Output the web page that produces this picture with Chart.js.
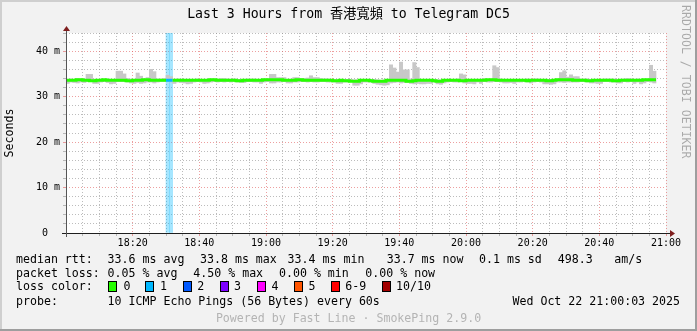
<!DOCTYPE html>
<html><head><meta charset="utf-8">
<script src="https://cdn.jsdelivr.net/npm/chart.js@4.4.1/dist/chart.umd.min.js"></script>
<style>html,body{margin:0;padding:0;background:#f2f2f2;}canvas{display:block;}</style>
</head><body>
<canvas id="c" width="697" height="331"></canvas>
<script>
const MONO = "'DejaVu Sans Mono', 'Noto Sans CJK TC', monospace";
const chartTitle = 'Last 3 Hours from 香港寬頻 to Telegram DC5';
const yAxisTitle = 'Seconds';
const watermark = 'RRDTOOL / TOBI OETIKER';
// x axis: minutes after 18:00, major labels every 20 minutes
const timeTickMinutes = [20, 40, 60, 80, 100, 120, 140, 160, 180];
const timeTickLabels = ['18:20','18:40','19:00','19:20','19:40','20:00','20:20','20:40','21:00'];
const yTickValues = [0, 10, 20, 30, 40];
const yTickLabels = ['0  ', '10 m', '20 m', '30 m', '40 m'];

// per-minute smoke range (ms) and median rtt (ms), minute 0 = 18:00
const smokeLo = [
32.9,33.2,33.1,33.0,33.2,33.1,33.3,33.3,32.9,32.9,
33.2,33.3,33.1,32.8,32.9,33.3,33.3,33.3,33.2,33.0,
32.9,33.1,32.9,33.0,33.2,33.2,33.0,33.2,33.3,33.3,
33.3,33.2,32.9,33.2,33.1,33.0,32.8,32.9,33.2,33.3,
33.2,32.9,33.0,33.2,33.3,33.2,33.3,33.2,33.3,33.2,
33.3,33.2,33.1,33.1,33.3,33.3,33.2,33.2,32.9,33.2,
33.3,33.0,33.0,33.2,33.2,33.3,33.0,33.0,33.2,33.2,
33.3,33.3,33.2,33.3,33.2,33.2,33.3,33.3,33.2,33.2,
33.2,32.9,32.9,33.2,33.2,33.3,32.5,32.5,32.8,33.2,
33.2,33.2,32.9,32.7,32.6,32.5,32.6,33.0,33.1,33.2,
33.0,33.1,33.1,32.9,32.8,32.9,32.8,32.8,32.9,32.9,
33.2,32.8,32.7,33.0,33.2,33.3,33.2,33.2,33.3,33.0,
32.9,32.9,32.8,33.2,32.9,33.3,33.2,33.2,33.3,33.3,
33.2,33.0,33.0,33.1,32.9,33.2,33.2,33.3,33.2,33.0,
33.2,33.3,33.2,32.8,32.8,32.7,32.8,33.2,33.2,33.1,
33.2,33.2,33.2,33.2,33.3,33.3,33.2,33.0,33.0,32.9,
32.9,33.3,33.3,33.2,33.2,33.0,33.0,33.3,33.2,33.3,
32.9,33.2,32.8,33.0,33.3,33.2,33.0];
const smokeHi = [
33.8,33.9,33.8,34.0,33.9,33.8,34.9,34.9,33.8,33.8,
33.9,33.8,33.9,33.8,33.8,35.6,35.6,35.0,34.0,33.9,
33.8,35.2,34.5,33.9,34.2,36.0,35.5,33.9,33.9,34.0,
34.7,34.4,33.8,33.9,33.8,33.8,33.8,33.7,33.8,33.9,
33.8,33.8,33.8,33.9,33.9,33.9,34.0,34.0,33.9,33.8,
33.9,33.8,33.8,33.8,33.9,33.9,33.9,33.8,33.8,33.9,
33.9,34.9,34.9,34.2,34.2,34.2,33.8,33.8,34.2,34.2,
34.0,34.0,34.1,34.6,34.2,34.2,34.0,33.9,33.9,33.8,
33.8,33.8,33.8,33.8,33.8,33.8,33.7,33.7,33.7,33.8,
33.8,33.8,33.8,33.7,33.6,33.7,33.7,37.0,36.3,35.4,
37.6,35.9,35.9,33.9,37.5,36.4,33.8,33.8,33.8,33.8,
33.8,33.7,33.7,33.7,33.8,33.8,33.8,33.9,35.0,34.8,
33.8,33.8,33.7,33.8,33.8,33.9,33.8,33.9,36.8,36.4,
33.9,33.8,33.8,33.8,33.8,33.8,33.8,33.8,33.9,33.8,
33.9,33.9,33.8,33.8,33.8,33.8,33.8,33.9,35.3,35.7,
34.3,34.8,34.4,34.4,33.9,33.9,33.9,33.8,33.8,33.8,
33.8,33.9,33.9,33.9,33.9,33.8,33.8,33.9,34.0,33.9,
33.8,33.9,33.8,33.8,33.9,36.9,35.6];
const medianRtt = [
33.5,33.6,33.6,33.6,33.7,33.7,33.6,33.6,33.5,33.5,
33.6,33.6,33.7,33.6,33.6,33.6,33.6,33.6,33.6,33.5,
33.5,33.6,33.6,33.6,33.7,33.7,33.6,33.6,33.6,33.6,
33.6,33.6,33.6,33.6,33.6,33.6,33.6,33.6,33.6,33.6,
33.6,33.6,33.6,33.6,33.7,33.7,33.6,33.6,33.6,33.6,
33.6,33.6,33.5,33.5,33.6,33.6,33.6,33.6,33.6,33.6,
33.7,33.7,33.7,33.7,33.7,33.7,33.6,33.6,33.6,33.6,
33.7,33.7,33.6,33.6,33.6,33.6,33.6,33.6,33.6,33.6,
33.6,33.5,33.5,33.6,33.5,33.5,33.4,33.4,33.4,33.6,
33.6,33.6,33.5,33.4,33.4,33.4,33.4,33.6,33.6,33.6,
33.6,33.6,33.6,33.4,33.4,33.5,33.6,33.6,33.6,33.6,
33.6,33.5,33.4,33.4,33.6,33.6,33.6,33.6,33.6,33.5,
33.5,33.6,33.6,33.6,33.6,33.6,33.6,33.7,33.7,33.7,
33.6,33.6,33.6,33.6,33.6,33.6,33.6,33.6,33.6,33.5,
33.6,33.6,33.6,33.6,33.6,33.5,33.5,33.6,33.7,33.7,
33.7,33.7,33.7,33.6,33.6,33.6,33.6,33.5,33.5,33.6,
33.6,33.6,33.6,33.6,33.6,33.5,33.5,33.6,33.6,33.6,
33.6,33.6,33.6,33.6,33.7,33.7,33.7];
const lossPct = [
0,0,0,0,0,0,0,0,0,0, 0,0,0,0,0,0,0,0,0,0, 0,0,0,0,0,0,0,0,0,0,
4.5,4.5,0,0,0,0,0,0,0,0, 0,0,0,0,0,0,0,0,0,0, 0,0,0,0,0,0,0,0,0,0,
0,0,0,0,0,0,0,0,0,0, 0,0,0,0,0,0,0,0,0,0, 0,0,0,0,0,0,0,0,0,0,
0,0,0,0,0,0,0,0,0,0, 0,0,0,0,0,0,0,0,0,0, 0,0,0,0,0,0,0,0,0,0,
0,0,0,0,0,0,0,0,0,0, 0,0,0,0,0,0,0,0,0,0, 0,0,0,0,0,0,0,0,0,0,
0,0,0,0,0,0,0,0,0,0, 0,0,0,0,0,0,0];
const lossClassLabels = ['0','1','2','3','4','5','6-9','10/10'];
const lossClassColors = ['#26ff00','#00b8ff','#0059ff','#7e00ff','#ff00ff','#ff5500','#ff0000','#a10000'];

const yMax = 44;
function lossClass(p){ if(p<=0) return 0; const n=Math.ceil(p/10); if(n>=10) return 7; if(n>=6) return 6; return n; }
function rgba(hex,a){const v=parseInt(hex.slice(1),16);return `rgba(${v>>16},${(v>>8)&255},${v&255},${a})`;}

const smokeData = smokeLo.map((lo,i)=>({x:i+0.5, y:[lo, smokeHi[i]]}));
const medianData = medianRtt.map((m,i)=>({x:i, y:m}));
medianData.push({x:medianRtt.length, y:medianRtt[medianRtt.length-1]});
const lossData = [], lossBg = [];
lossPct.forEach((p,i)=>{ if(p>0){ lossData.push({x:i+0.5, y:[0,yMax]}); lossBg.push(rgba(lossClassColors[lossClass(p)],0.35)); } });

const GRID = 'rgba(143,143,143,0.6)', MGRID = 'rgba(222,80,80,0.55)';

const deco = {
  id:'deco',
  beforeDraw(chart){
    const ctx=chart.ctx, a=chart.chartArea;
    ctx.save();
    ctx.fillStyle='#f2f2f2'; ctx.fillRect(0,0,chart.width,chart.height);
    ctx.fillStyle='#ffffff'; ctx.fillRect(a.left,a.top,a.right-a.left,a.bottom-a.top);
    ctx.restore();
  },
  afterDatasetsDraw(chart){
    const ctx=chart.ctx, a=chart.chartArea;
    ctx.save();
    ctx.lineWidth=1;
    ctx.strokeStyle='#1f1f1f';
    ctx.beginPath(); ctx.moveTo(a.left-4, a.bottom+0.5); ctx.lineTo(a.right+4, a.bottom+0.5); ctx.stroke();
    ctx.strokeStyle='#555';
    ctx.beginPath(); ctx.moveTo(a.left+0.5, a.bottom+4); ctx.lineTo(a.left+0.5, a.top-2); ctx.stroke();
    ctx.fillStyle='#7f1f1f';
    ctx.beginPath(); ctx.moveTo(a.right+4, a.bottom-3); ctx.lineTo(a.right+9, a.bottom+0.5); ctx.lineTo(a.right+4, a.bottom+4); ctx.closePath(); ctx.fill();
    ctx.beginPath(); ctx.moveTo(a.left-3, a.top-2); ctx.lineTo(a.left+0.5, a.top-7); ctx.lineTo(a.left+4, a.top-2); ctx.closePath(); ctx.fill();
    ctx.restore();
  },
  afterDraw(chart){
    const ctx=chart.ctx, W=chart.width, H=chart.height;
    ctx.save();
    ctx.fillStyle='#000'; ctx.textBaseline='middle';
    ctx.font=`13.2px ${MONO}`; ctx.textAlign='center';
    ctx.fillText(chartTitle, W/2, 14.5);
    const F=`11.6px ${MONO}`;
    ctx.font=F; ctx.textAlign='left';
    const T=(s,x,y,al)=>{ctx.textAlign=al||'left'; ctx.fillText(s,x,y);};
    T('median rtt:',16,259.5); T('33.6 ms avg',107.6,259.5); T('33.8 ms max',200,259.5);
    T('33.4 ms min',287.6,259.5); T('33.7 ms now',386.7,259.5); T('0.1 ms sd',479,259.5);
    T('498.3',557.8,259.5); T('am/s',614.2,259.5);
    T('packet loss:',16,273.5); T('0.05 % avg',107.6,273.5); T('4.50 % max',193.3,273.5);
    T('0.00 % min',279,273.5); T('0.00 % now',365.3,273.5);
    T('loss color:',16,287);
    const boxX=[108,145.3,182.7,220,256.9,294.2,331,381.8];
    const lblX=[123.6,160,197.3,234,271.6,308.4,345.3,396];
    lossClassLabels.forEach((l,i)=>{
      ctx.fillStyle=lossClassColors[i]; ctx.fillRect(Math.round(boxX[i])+0.5,281.5,8,10);
      ctx.strokeStyle='#000'; ctx.lineWidth=1; ctx.strokeRect(Math.round(boxX[i])+0.5,281.5,8,10);
      ctx.fillStyle='#000'; T(l,lblX[i],287);
    });
    T('probe:',16,302); T('10 ICMP Echo Pings (56 Bytes) every 60s',107.6,302);
    T('Wed Oct 22 21:00:03 2025',680,302,'right');
    ctx.fillStyle='#b4b4b4'; T('Powered by Fast Line · SmokePing 2.9.0', W/2, 318.5, 'center');
    // watermark
    ctx.save(); ctx.translate(685.5,5); ctx.rotate(Math.PI/2);
    ctx.fillStyle='rgba(0,0,0,0.3)'; ctx.textAlign='left'; ctx.fillText(watermark,0,0);
    ctx.restore();
    // frame shading
    ctx.fillStyle='#cfcfcf'; ctx.fillRect(0,0,W,2); ctx.fillRect(0,0,2,H);
    ctx.fillStyle='#9e9e9e'; ctx.fillRect(0,H-2,W,2); ctx.fillRect(W-2,0,2,H);
    ctx.restore();
  }
};

new Chart(document.getElementById('c'), {
  type:'line',
  data:{datasets:[
    {type:'line', label:'median', data:medianData, order:0, stepped:'after', borderWidth:3,
     borderColor:lossClassColors[0], pointRadius:0, fill:false,
     segment:{borderColor:c=>lossClassColors[lossClass(lossPct[c.p0DataIndex]||0)]}},
    {type:'bar', label:'smoke', data:smokeData, order:1, grouped:false, backgroundColor:'#c8c8c8',
     borderWidth:0, barPercentage:1, categoryPercentage:1},
    {type:'bar', label:'loss', data:lossData, order:2, grouped:false, backgroundColor:lossBg,
     borderWidth:0, barPercentage:1, categoryPercentage:1}
  ]},
  plugins:[deco],
  options:{
    responsive:false, animation:false, devicePixelRatio:1, events:[],
    layout:{padding:{top:33,right:31,bottom:0,left:0}},
    plugins:{legend:{display:false}, title:{display:false}, tooltip:{enabled:false}},
    scales:{
      x:{type:'linear', min:0, max:180, offset:false,
        grid:{offset:false, color:c=>c.tick && c.tick.value%20===0?MGRID:GRID, tickLength:3, lineWidth:1},
        border:{display:false, dash:[1,2]},
        ticks:{stepSize:5, autoSkip:false, maxRotation:0, padding:1, color:'#000',
          font:{family:MONO,size:10},
          callback:v=>{const k=timeTickMinutes.indexOf(v); return k>=0?timeTickLabels[k]:'';}},
        afterFit:s=>{s.height=98;}
      },
      y:{type:'linear', min:0, max:yMax,
        grid:{color:c=>c.tick && c.tick.value%10===0?MGRID:GRID, tickLength:3, lineWidth:1},
        border:{display:false, dash:[1,2]},
        ticks:{stepSize:2, autoSkip:false, padding:3, color:'#000', font:{family:MONO,size:10},
          callback:v=>{const k=yTickValues.indexOf(v); return k>=0?yTickLabels[k]:'';}},
        title:{display:true, text:yAxisTitle, color:'#000', font:{family:MONO,size:11.6}, padding:{top:3,bottom:0}},
        afterFit:s=>{s.width=66;}
      }
    }
  }
});
</script>
</body></html>
